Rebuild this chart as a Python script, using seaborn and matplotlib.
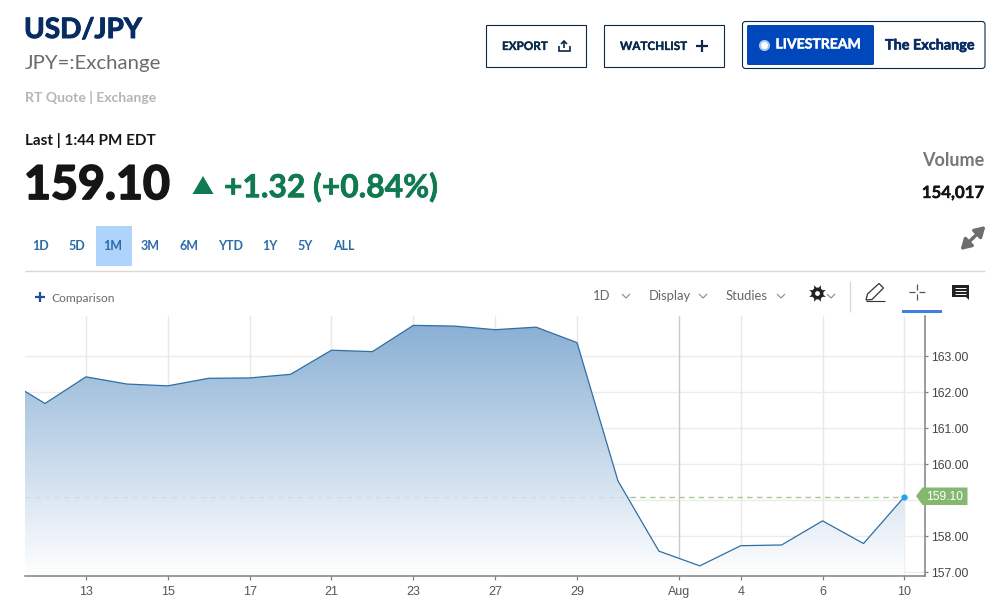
import matplotlib
matplotlib.use("Agg")
import matplotlib.patheffects as pe
import matplotlib.pyplot as plt
import numpy as np
import pandas as pd
import seaborn as sns
from matplotlib.patches import FancyBboxPatch, Polygon, Rectangle

# one entry per trading session, Jul 9 to Aug 10
session_days = ["9", "10", "13", "14", "15", "16", "17", "20", "21", "22", "23", "24",
                "27", "28", "29", "30", "31", "3", "4", "5", "6", "7", "10"]
close_values = [162.38, 161.69, 162.43, 162.23, 162.18, 162.39, 162.40, 162.50, 163.17,
                163.13, 163.86, 163.84, 163.74, 163.81, 163.38, 159.54, 157.59, 157.18,
                157.74, 157.76, 158.43, 157.80, 159.10]
x_tick_pos = [2, 4, 6, 8, 10, 12, 14, 16.5, 18, 20, 22]
x_tick_labels = ["13", "15", "17", "21", "23", "27", "29", "Aug", "4", "6", "10"]
y_ticks = [157, 158, 159, 160, 161, 162, 163]
y_tick_labels = ["157.00", "158.00", "", "160.00", "161.00", "162.00", "163.00"]
last_price = 159.10

range_labels = ["1D", "5D", "1M", "3M", "6M", "YTD", "1Y", "5Y", "ALL"]
range_centers = [41, 77, 113, 150, 189, 231, 270, 305, 344]

NAVY = "#0b2a4a"
W, H = 994, 606

sns.set_theme(style="white")
plt.rcParams["font.family"] = ["Lato", "DejaVu Sans"]

fig = plt.figure(figsize=(W / 100, H / 100), dpi=100, facecolor="white")

# chart panel
ax = fig.add_axes([25 / W, 1 - 576.3 / H, 900.3 / W, 260.3 / H], facecolor="none")
df = pd.DataFrame({"session": np.arange(len(close_values)), "close": close_values})
xlim = (0.511, 22.51)
ylim = (156.89, 164.12)

for y in y_ticks:
    ax.axhline(y, color="#ececec", lw=1, zorder=1)
for x in x_tick_pos:
    ax.axvline(x, color="#c9c9c9" if x == 16.5 else "#e8e8e8", lw=1, zorder=1)

# gradient fill under the line, clipped to the area polygon
area = ax.fill_between(df["session"], df["close"], ylim[0], color="none", lw=0)
grad = np.linspace(0, 1, 256).reshape(-1, 1)
cmap = matplotlib.colors.LinearSegmentedColormap.from_list("fade", ["#8ab0d5", "#ffffff"])
img = ax.imshow(grad, extent=[xlim[0], xlim[1], ylim[0], 163.88], cmap=cmap, aspect="auto",
                origin="upper", zorder=2)
img.set_clip_path(area.get_paths()[0], transform=ax.transData)
ax.set_xlim(xlim)
ax.set_ylim(ylim)

# the price line is faint across the fill and green past the drop
split = (15.3 - xlim[0]) / (xlim[1] - xlim[0])
end = (22.15 - xlim[0]) / (xlim[1] - xlim[0])
ax.axhline(last_price, xmax=split, color="#d3dce6", lw=1, dashes=(4, 3), zorder=3)
ax.axhline(last_price, xmin=split, xmax=end, color="#a8c89a", lw=1, dashes=(4, 3), zorder=3)
sns.lineplot(data=df, x="session", y="close", ax=ax, color="#2f6fa3", lw=0.9, zorder=4)
ax.plot([22], [last_price], "o", color="#1ea7f2", ms=4.5, mew=0, zorder=5)

ax.set_xlabel("")
ax.set_ylabel("")
ax.set_xticks(x_tick_pos)
ax.set_xticklabels(x_tick_labels, family="Liberation Sans", fontsize=9, color="#555555")
ax.set_yticks(y_ticks)
ax.set_yticklabels(y_tick_labels, family="Liberation Sans", fontsize=8.8, color="#444444")
ax.yaxis.tick_right()
ax.tick_params(axis="x", length=3, width=0.9, color="#808080", pad=4, bottom=True)
ax.tick_params(axis="y", length=2.2, width=0.9, color="#808080", pad=2, right=True)
for side in ["top", "left"]:
    ax.spines[side].set_visible(False)
for side in ["right", "bottom"]:
    ax.spines[side].set_color("#808080")
    ax.spines[side].set_linewidth(1.1)

# page furniture drawn in pixel coordinates
ui = fig.add_axes([0, 0, 1, 1], facecolor="none")
ui.set_xlim(0, W)
ui.set_ylim(H, 0)
ui.axis("off")


def label(x, y, s, size, color, weight="normal", ha="left", family=None, fat=0):
    t = ui.text(x, y, s, fontsize=size * 0.72, color=color, fontweight=weight, ha=ha, va="center",
                family=family or ["Lato", "DejaVu Sans"])
    if fat:
        t.set_path_effects([pe.withStroke(linewidth=fat, foreground=color)])


def box(x0, y0, x1, y1, face="none", edge=NAVY, lw=0.8):
    ui.add_patch(Rectangle((x0, y0), x1 - x0, y1 - y0, fc=face, ec=edge, lw=lw))


def stroke(xs, ys, color, lw=1.2):
    ui.plot(xs, ys, color=color, lw=lw, solid_capstyle="butt", solid_joinstyle="miter")


def chevron(x, y):
    stroke([x - 4, x, x + 4], [y - 2, y + 2, y - 2], "#888888", 0.8)


label(24, 30, "USD/JPY", 28, "#062c61", "bold", fat=0.7)
label(25, 63, "JPY=:Exchange", 20.4, "#6b6b6b")
label(25, 98, "RT Quote | Exchange", 14, "#b5b5b5", "bold")
label(25, 141, "Last | 1:44 PM EDT", 15.3, "#151515", "bold")
label(24, 186, "159.10", 46.5, "#151515", "bold", fat=1.3)
ui.add_patch(Polygon([[192.5, 194], [203, 176], [213.5, 194]], fc="#0f7a50", ec="none"))
label(224, 187, "+1.32 (+0.84%)", 31.8, "#0f7a50", "bold", fat=0.5)

box(486, 25, 585.5, 66.5)
label(502, 46.5, "EXPORT", 11.7, NAVY, "bold", fat=0.25)
stroke([558.5, 558.5, 569.5, 569.5], [46, 50.5, 50.5, 46], NAVY)
stroke([564, 564], [48, 41], NAVY)
stroke([561, 564, 567], [44, 41, 44], NAVY)
box(604, 25, 723.5, 66.5)
label(620, 46.5, "WATCHLIST", 11.7, NAVY, "bold", fat=0.25)
stroke([696, 708], [46, 46], NAVY, 1.6)
stroke([702, 702], [40, 52], NAVY, 1.6)
ui.add_patch(FancyBboxPatch((742.5, 21.5), 242.5, 47, boxstyle="round,pad=0,rounding_size=3",
                            fc="white", ec=NAVY, lw=0.8))
ui.add_patch(FancyBboxPatch((747, 25), 127, 40, boxstyle="round,pad=0,rounding_size=1.5",
                            fc="#0047bb", ec="none"))
ui.plot([764], [45], "o", color="#a9c6f2", ms=8, mew=0)
ui.plot([764], [45], "o", color="white", ms=5, mew=0)
label(775.5, 44.5, "LIVESTREAM", 14, "white", "bold", fat=0.3)
label(885, 45.5, "The Exchange", 14.4, "#062c61", "bold", fat=0.4)

label(984, 160, "Volume", 18, "#777777", "bold", ha="right")
label(984, 193, "154,017", 16.8, "#151515", "bold", ha="right", fat=0.3)

for tip in [(985.5, 226), (960.5, 250)]:
    ui.annotate("", xy=tip, xytext=(973, 238),
                arrowprops=dict(arrowstyle="-|>,head_width=0.3,head_length=0.5", color="#6d6d6d",
                                lw=2.4, shrinkA=0, shrinkB=0))

box(96, 226, 132, 266, face="#aed4fb", edge="none", lw=0)
for cx, s in zip(range_centers, range_labels):
    label(cx, 246.5, s, 12.5, "#2b6ca8", "bold", ha="center")
stroke([25, 985], [270.5, 270.5], "#d8d8d8", 1)

stroke([35, 45], [297, 297], "#1a4fa0", 1.6)
stroke([40, 40], [292, 302], "#1a4fa0", 1.6)
label(51, 298.5, "Comparison", 12, "#6b6b6b")

label(593, 295.5, "1D", 13, "#666666")
label(649, 295.5, "Display", 13, "#666666")
label(726, 295.5, "Studies", 13, "#666666")
for cx in [626, 703, 781, 831]:
    chevron(cx, 296)
# gear
ui.plot([817], [293], marker=(8, 1, 22.5), color="#222222", ms=13, mew=0)
ui.plot([817], [293], "o", color="#222222", ms=8.5, mew=0)
ui.plot([817], [293], "o", color="white", ms=3.5, mew=0)
stroke([849.5, 849.5], [281, 312], "#d8d8d8", 1)

# pencil
ui.add_patch(Polygon([[866, 300], [867.5, 294], [879, 283.5], [883.5, 288], [872, 299.5]],
                     fc="white", ec="#333333", lw=0.9))
stroke([866, 885], [300.5, 300.5], "#333333", 0.8)
# crosshair
stroke([909, 915], [292, 292], "#555555", 0.9)
stroke([919, 925], [292, 292], "#555555", 0.9)
stroke([917, 917], [284, 290], "#555555", 0.9)
stroke([917, 917], [294, 300], "#555555", 0.9)
box(902, 310, 942, 313, face="#3f7fe0", edge="none", lw=0)
# comment bubble
ui.add_patch(Polygon([[952, 285], [969, 285], [969, 300], [966, 297], [952, 297]], fc="#222222", ec="none"))
for ly in [288, 291, 294]:
    stroke([954.5, 966], [ly, ly], "white", 0.7)

# last price flag
ui.add_patch(Polygon([[916, 496], [922.5, 487.5], [967.5, 487.5], [967.5, 505], [922.5, 505]],
                     fc="#84b870", ec="none", joinstyle="round"))
label(945, 496.5, "159.10", 12, "white", ha="center", family="Liberation Sans")

fig.savefig("out.png", dpi=100)
